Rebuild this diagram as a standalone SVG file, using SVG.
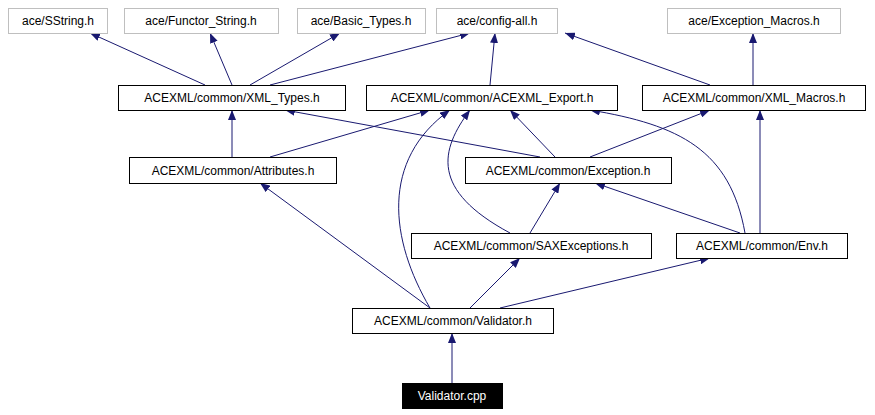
<svg xmlns="http://www.w3.org/2000/svg" width="875" height="415" viewBox="0 0 875 415">
<style>
.n rect{fill:#fff;stroke:#000;stroke-width:1}
.g rect{fill:#fff;stroke:#bfbfbf;stroke-width:1}
text{font-family:"Liberation Sans",Arial,sans-serif;font-size:12px;text-anchor:middle;fill:#000}
.e path{fill:none;stroke:#191970;stroke-width:1;marker-end:url(#a)}
</style>
<defs><marker id="a" markerWidth="10" markerHeight="8" refX="10" refY="4" orient="auto" markerUnits="userSpaceOnUse"><path d="M0,0L10,4L0,8z" fill="#191970"/></marker></defs>
<rect width="875" height="415" fill="#fff"/>
<g class="e">
<path d="M205,85L90,33"/>
<path d="M232,85L210,33"/>
<path d="M250,85L340,33"/>
<path d="M270,85L470,33"/>
<path d="M490,85L495,33"/>
<path d="M710,85L565,33"/>
<path d="M753,85L753,33"/>
<path d="M232,157L232,110"/>
<path d="M270,157L430,110"/>
<path d="M540,157L285,110"/>
<path d="M555,157L510,110"/>
<path d="M590,157L710,110"/>
<path d="M530,233L560,183"/>
<path d="M510,233C430,190 440,150 470,110"/>
<path d="M740,233L595,183"/>
<path d="M760,233L760,110"/>
<path d="M745,233C730,150 680,125 590,110"/>
<path d="M430,308L260,183"/>
<path d="M430,308C390,240 380,160 450,110"/>
<path d="M470,308L520,258"/>
<path d="M500,308L710,258"/>
<path d="M452,383L452,333"/>
</g>
<g id="n1" class="g"><rect x="8.500" y="8.500" width="99" height="25"/><text x="58" y="25">ace/SString.h</text></g>
<g id="n2" class="g"><rect x="124.500" y="8.500" width="154" height="25"/><text x="201" y="25">ace/Functor_String.h</text></g>
<g id="n3" class="g"><rect x="297.500" y="8.500" width="128" height="25"/><text x="361" y="25">ace/Basic_Types.h</text></g>
<g id="n4" class="g"><rect x="436.500" y="8.500" width="121" height="25"/><text x="497" y="25">ace/config-all.h</text></g>
<g id="n5" class="g"><rect x="667.500" y="8.500" width="173" height="25"/><text x="754" y="25">ace/Exception_Macros.h</text></g>
<g id="n6" class="n"><rect x="118.500" y="85.500" width="227" height="25"/><text x="232" y="102">ACEXML/common/XML_Types.h</text></g>
<g id="n7" class="n"><rect x="366.500" y="85.500" width="251" height="25"/><text x="492" y="102">ACEXML/common/ACEXML_Export.h</text></g>
<g id="n8" class="n"><rect x="642.500" y="85.500" width="223" height="25"/><text x="754" y="102">ACEXML/common/XML_Macros.h</text></g>
<g id="n9" class="n"><rect x="129.500" y="157.500" width="207" height="26"/><text x="233" y="175">ACEXML/common/Attributes.h</text></g>
<g id="n10" class="n"><rect x="465.500" y="157.500" width="206" height="26"/><text x="568" y="175">ACEXML/common/Exception.h</text></g>
<g id="n11" class="n"><rect x="411.500" y="233.500" width="240" height="25"/><text x="531" y="250">ACEXML/common/SAXExceptions.h</text></g>
<g id="n12" class="n"><rect x="676.500" y="233.500" width="171" height="25"/><text x="762" y="250">ACEXML/common/Env.h</text></g>
<g id="n13" class="n"><rect x="352.500" y="308.500" width="201" height="25"/><text x="453" y="325">ACEXML/common/Validator.h</text></g>
<g id="n14"><rect x="402.500" y="383.500" width="100" height="25" fill="#000" stroke="#000"/><text x="452" y="400" style="fill:#fff">Validator.cpp</text></g>
</svg>
